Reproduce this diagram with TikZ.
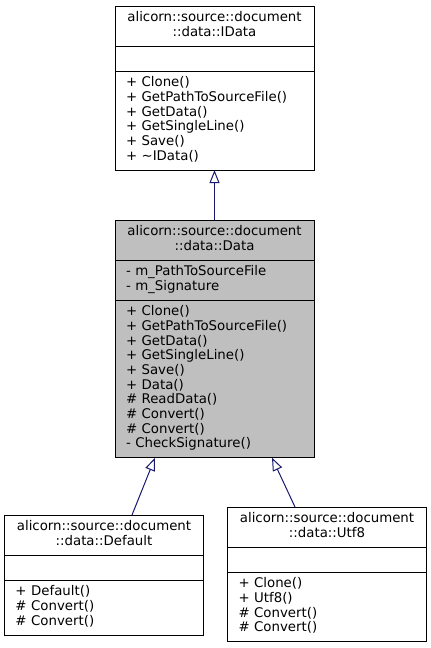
\documentclass[tikz,border=0pt]{standalone}
\usepackage{fontspec}
\newfontfamily\umlfont{DejaVu Sans}
\usetikzlibrary{positioning,arrows.meta}
\definecolor{edgeblue}{HTML}{191970}
\definecolor{activegray}{HTML}{BFBFBF}
\begin{document}
\begin{tikzpicture}[x=1pt, y=1pt,
  clsbox/.style={draw=black, line width=1pt, fill=white, outer sep=0pt, text width=177pt,
    inner xsep=11pt, inner ysep=5.3pt, anchor=north,
    font={\umlfont\fontsize{13.33}{14.7}\selectfont},
    execute at begin node=\strut, execute at end node=\strut},
  clsname/.style={clsbox, align=center},
  clspart/.style={clsbox, align=left, below=0pt of #1},
  inherit/.style={draw=edgeblue, line width=1pt, -{Triangle[open, length=13pt, width=10pt, fill=white]}}
]
\useasboundingbox (0,0) rectangle (431,-648);
% base class
\node[clsname] (idata-name) at (214.5,-6) {alicorn::source::document\\::data::IData};
\node[clspart=idata-name] (idata-attr) {};
\node[clspart=idata-attr] (idata-ops) {+ Clone()\\+ GetPathToSourceFile()\\+ GetData()\\+ GetSingleLine()\\+ Save()\\+ \textasciitilde IData()};
% the documented class
\node[clsname, fill=activegray, below=50pt of idata-ops] (data-name) {alicorn::source::document\\::data::Data};
\node[clspart=data-name, fill=activegray] (data-attr) {- m\_PathToSourceFile\\- m\_Signature};
\node[clspart=data-attr, fill=activegray] (data-ops) {+ Clone()\\+ GetPathToSourceFile()\\+ GetData()\\+ GetSingleLine()\\+ Save()\\+ Data()\\\# ReadData()\\\# Convert()\\\# Convert()\\- CheckSignature()};
% derived classes
\node[clsname] (default-name) at (104,-515) {alicorn::source::document\\::data::Default};
\node[clspart=default-name] (default-attr) {};
\node[clspart=default-attr] (default-ops) {+ Default()\\\# Convert()\\\# Convert()};
\node[clsname] (utf8-name) at (327,-507) {alicorn::source::document\\::data::Utf8};
\node[clspart=utf8-name] (utf8-attr) {};
\node[clspart=utf8-attr] (utf8-ops) {+ Clone()\\+ Utf8()\\\# Convert()\\\# Convert()};
% inheritance
\draw[inherit] (data-name) -- (idata-ops);
\draw[inherit] ([xshift=28pt]default-name.north) -- ([xshift=-59.5pt]data-ops.south);
\draw[inherit] ([xshift=-32pt]utf8-name.north) -- ([xshift=57.5pt]data-ops.south);
\end{tikzpicture}
\end{document}
